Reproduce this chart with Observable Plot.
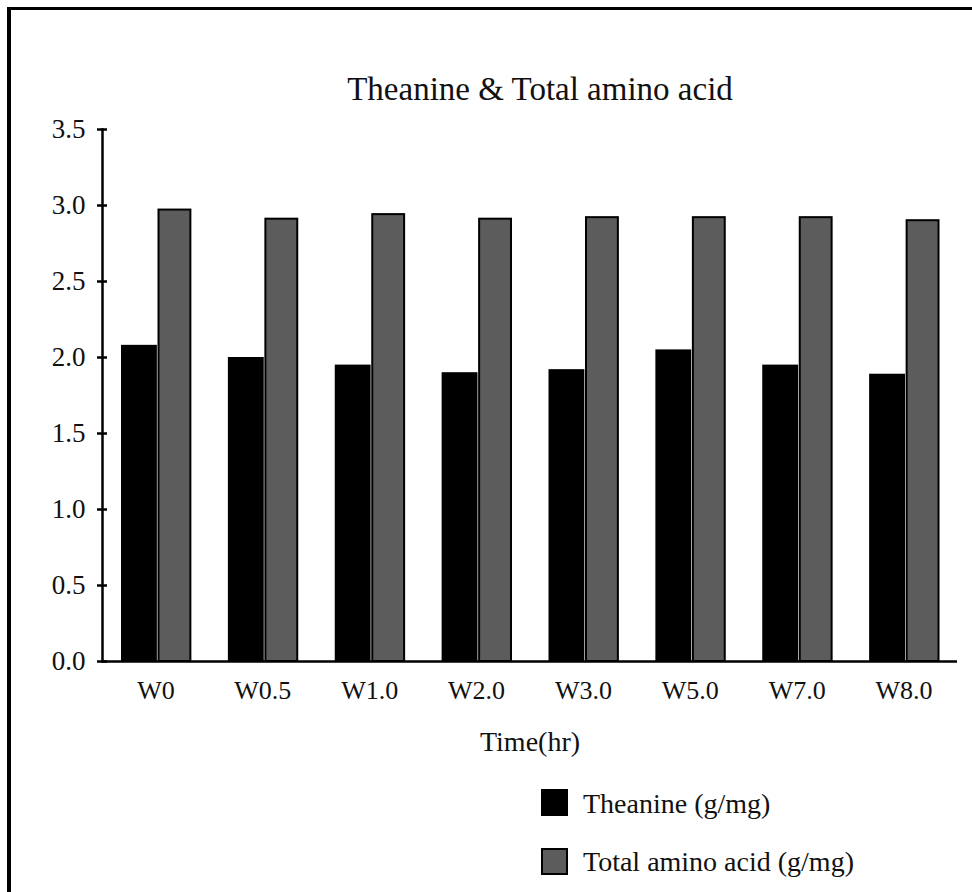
<!DOCTYPE html>
<html><head><meta charset="utf-8">
<script src="https://cdn.jsdelivr.net/npm/d3@7"></script>
<script src="https://cdn.jsdelivr.net/npm/@observablehq/plot@0.6"></script>
<style>
body{margin:0;background:#fff;}
#page{position:relative;width:972px;height:892px;overflow:hidden;background:#fff;font-family:"Liberation Serif",serif;color:#111;}
#border{position:absolute;left:7px;top:7px;right:-10px;bottom:-10px;border-top:3px solid #000;border-left:4px solid #000;}
#title{position:absolute;left:0;width:1080px;top:73px;text-align:center;font-size:33px;line-height:33px;white-space:nowrap;}
#chart{position:absolute;left:0;top:110px;}
.lg-sw{position:absolute;left:541px;width:27px;height:27px;box-sizing:border-box;}
.lg-tx{position:absolute;left:583px;font-size:28px;line-height:28px;white-space:nowrap;}
</style></head>
<body><div id="page"><div id="border"></div><div id="title"></div><div id="chart"></div><div id="legend"></div></div>
<script>
const categories = ["W0","W0.5","W1.0","W2.0","W3.0","W5.0","W7.0","W8.0"];
const theanine = [2.08,2.00,1.95,1.90,1.92,2.05,1.95,1.89];
const totalAminoAcid = [2.97,2.91,2.94,2.91,2.92,2.92,2.92,2.90];
const yTicks = [0,0.5,1,1.5,2,2.5,3,3.5];
const seriesNames = ["Theanine (g/mg)","Total amino acid (g/mg)"];
const seriesColors = ["#000000","#5c5c5c"];
const titleText = "Theanine & Total amino acid";
const xLabel = "Time(hr)";

const rows = categories.map((c,i)=>({time:c, theanine: theanine[i], total: totalAminoAcid[i]}));

document.getElementById("title").textContent = titleText;

const chart = Plot.plot({
  width: 972,
  height: 670,
  marginLeft: 102,
  marginRight: 15,
  marginTop: 19,
  marginBottom: 119,
  style: {fontFamily: "'Liberation Serif', serif", color: "#111", background: "transparent", overflow: "visible"},
  x: {domain: categories, padding: 0, round: false, axis: null},
  y: {domain: [0, 3.5], axis: null},
  marks: [
    Plot.barY(rows, {x: "time", y: "theanine", fill: seriesColors[0], insetLeft: 19, insetRight: 52}),
    Plot.barY(rows, {x: "time", y: "total", fill: seriesColors[1], stroke: "#000", strokeWidth: 2, insetLeft: 56.5, insetRight: 18.5}),
    Plot.ruleY([0], {stroke: "#000", strokeWidth: 2.5}),
    Plot.frame({anchor: "left", stroke: "#000", strokeWidth: 2.5}),
    Plot.axisY(yTicks, {tickSize: 10, dx: 5, fill: "none", stroke: "#000", strokeWidth: 2.5, label: null}),
    Plot.axisY(yTicks, {tickSize: 0, tickPadding: 17, tickFormat: d3.format(".1f"), fontSize: 27, fill: "#111", label: null}),
    Plot.axisX({tickSize: 0, tickPadding: 19.5, fontSize: 26, fill: "#111", label: null}),
    Plot.text([xLabel], {text: d => d, frameAnchor: "bottom", dy: 89, fontSize: 28, fill: "#111"})
  ]
});
document.getElementById("chart").appendChild(chart);

const legend = document.getElementById("legend");
const swTops = [789, 848];
const txTops = [789.6, 847.6];
seriesNames.forEach((name, i) => {
  const sw = document.createElement("div");
  sw.className = "lg-sw";
  sw.style.top = swTops[i] + "px";
  sw.style.background = seriesColors[i];
  if (i === 1) sw.style.border = "2px solid #000";
  legend.appendChild(sw);
  const tx = document.createElement("div");
  tx.className = "lg-tx";
  tx.style.top = txTops[i] + "px";
  tx.textContent = name;
  legend.appendChild(tx);
});
</script>
</body></html>
